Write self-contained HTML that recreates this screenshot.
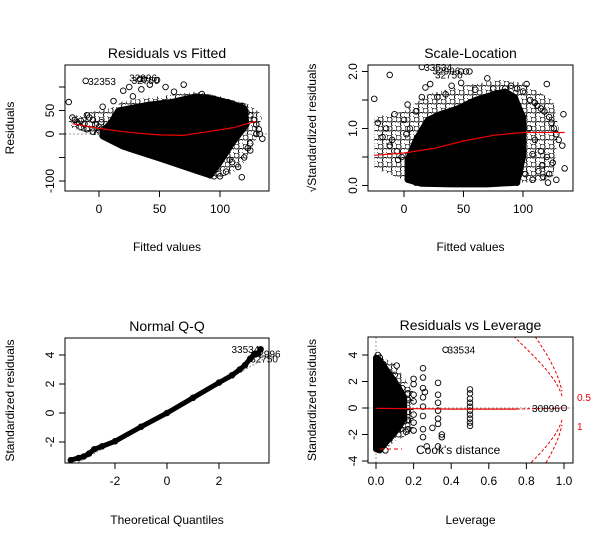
<!DOCTYPE html>
<html><head><meta charset="utf-8"><style>
html,body{margin:0;padding:0;background:#fff}
svg{display:block;font-family:"Liberation Sans",Arial,sans-serif}
</style></head><body>
<svg id="c" width="606" height="545" viewBox="0 0 606 545" xmlns="http://www.w3.org/2000/svg">
<defs>
<pattern id="circpat" width="9" height="9" patternUnits="userSpaceOnUse">
<circle cx="2.5" cy="2.5" r="2.6" fill="none" stroke="#000" stroke-width="0.9"/>
<circle cx="7" cy="7" r="2.6" fill="none" stroke="#000" stroke-width="0.9"/>
</pattern>
</defs>
</svg>
<script>
// ---------- data ----------
// Panel 1: Residuals vs Fitted
const rvfCloudX=[10,16,40,60,80,95,110,120,122,110,100,92,80,50,20,3,3];
const rvfCloudY=[25,50,62,68,80,75,65,55,20,-20,-60,-88,-78,-52,-27,-5,5];
const rvfFringeX=[-25,-10,10,20,50,80,100,125,135,130,120,110,95,80,50,20,0,-25];
const rvfFringeY=[35,45,55,70,80,90,80,62,40,-10,-60,-85,-95,-85,-55,-30,-5,15];
const rvfPtsX=[-25,-22,-20,-18,-15,-12,-10,-8,-5,-3,0,2,5,8,10,12,15,-15,-10,-5,0,5,10,3,12,20,25,28,35,42,48,55,62,70,85,95,100,105,110,115,118,120,122,125,128,130,132,133,135,125,120,115,110,105,100,95,97,108,118,123,125,130,88,92];
const rvfPtsY=[68,35,30,25,28,22,40,35,30,20,15,25,10,12,20,30,35,15,10,5,8,0,5,58,70,92,100,80,95,105,115,100,90,105,85,75,70,60,65,55,60,50,45,40,30,20,10,0,-10,-35,-50,-70,-60,-80,-90,-90,-75,-55,-92,-30,-20,0,-78,-88];
const rvfLowX=[-22,0,20,40,50,70,90,110,130];
const rvfLowY=[22,12,5,0,-2,-3,5,13,27];
// Panel 2: Scale-Location
const slCloudX=[3,3,10,20,30,45,60,75,85,93,100,100,95,70,40,15];
const slCloudY=[0.1,0.45,0.8,1.15,1.25,1.35,1.5,1.6,1.65,1.55,1.2,0.5,0.05,0.02,0.02,0.03];
const slFringeX=[-25,-25,0,20,50,80,100,125,130,125,100,20,0];
const slFringeY=[0.3,1.2,1.3,1.6,1.75,1.85,1.8,1.5,1.0,0.1,0.05,0,0.1];
const slPtsX=[-25,-22,-18,-15,-12,-10,-8,-5,-2,0,3,5,8,10,12,-12,-6,2,6,10,15,18,22,28,35,40,48,55,60,70,75,85,90,95,100,103,106,110,112,115,118,120,122,124,126,128,130,133,134,135,100,105,110,115,120,125,98,102,108,113,117,121,95,100,108,116,122,128];
const slPtsY=[1.52,1.1,0.85,1.0,1.94,0.8,1.25,0.45,0.5,1.15,1.42,1.0,0.2,0.05,0.4,0.7,0.6,0.9,0.3,1.3,1.55,1.72,1.78,1.55,1.6,1.75,1.8,2.0,1.68,1.88,1.7,1.7,1.75,1.7,1.65,1.78,1.5,1.45,1.4,1.35,1.3,1.78,1.2,1.1,1.0,0.9,0.8,0.7,1.25,0.3,1.2,1.0,0.8,0.6,0.5,0.4,0.3,0.2,0.1,0.25,0.15,0.05,0.05,0.65,0.55,0.35,0.2,0.1];
const slLowX=[-25,0,25,50,75,100,135];
const slLowY=[0.53,0.57,0.65,0.78,0.88,0.93,0.93];
// Panel 3: Normal Q-Q
const qqX=[-3.7,-3.4,-3.2,-3.0,-2.8,-2.5,-2.0,-1.0,0,1.0,2.0,2.5,2.8,3.0,3.2,3.35,3.5,3.6];
const qqY=[-3.25,-3.1,-3.0,-2.8,-2.5,-2.3,-1.95,-0.95,0,1.05,2.1,2.6,3.0,3.3,3.75,4.05,4.1,4.4];
// Panel 4: Residuals vs Leverage
const rvlCloudX=[0,0,0.02,0.05,0.08,0.1,0.13,0.15,0.15,0.12,0.08,0.04,0.02];
const rvlCloudY=[-3.1,3.8,3.6,3.0,2.4,2.0,1.3,0.8,-0.8,-1.5,-2.2,-2.8,-3.2];
const rvlFringeX=[0,0.1,0.2,0.2,0.1,0.04,0];
const rvlFringeY=[4.1,3.3,1.2,-1.8,-2.5,-3.3,-3.2];
const rvlPtsX=[0.01,0.02,0.04,0.05,0.08,0.1,0.11,0.14,0.15,0.17,0.17,0.17,0.17,0.17,0.2,0.2,0.2,0.2,0.2,0.2,0.2,0.25,0.25,0.25,0.25,0.25,0.25,0.25,0.25,0.26,0.27,0.3,0.33,0.33,0.33,0.33,0.33,0.33,0.33,0.35,0.35,0.5,0.5,0.5,0.5,0.5,0.5,0.5,0.5,0.5,0.5,0.37,1.0,0.13,0.16];
const rvlPtsY=[4.0,3.8,3.3,-3.2,2.0,2.5,3.2,1.5,-1.0,1.1,0.6,-0.3,-0.9,-1.6,2.2,1.8,1.0,0.5,-0.5,-1.1,-1.7,3.0,2.3,1.5,0.8,0.1,-0.6,-1.6,-2.2,1.2,-2.9,-1.5,1.9,1.0,0.4,-0.2,-0.8,-1.2,-2.9,-2.0,-2.2,1.4,1.1,0.7,0.4,0.1,-0.2,-0.5,-0.8,-1.1,-1.35,4.4,0.0,-1.6,-1.8];
const rvlLowX=[0,0.2,0.4,0.6,0.75];
const rvlLowY=[-0.02,-0.05,-0.08,-0.08,-0.08];
const cookLevels=[0.5,1];
const cookP=160;

// ---------- helpers ----------
const NS="http://www.w3.org/2000/svg";
const svg=document.getElementById('c');
function mk(tag,attrs,parent){const e=document.createElementNS(NS,tag);for(const k in attrs)e.setAttribute(k,attrs[k]);(parent||svg).appendChild(e);return e;}
function txt(x,y,s,size,anchor,rot,color,parent){const t=mk('text',{x:x,y:y,'font-size':size,'text-anchor':anchor||'middle',fill:color||'#000'},parent);if(rot)t.setAttribute('transform','rotate(-90 '+x+' '+y+')');t.textContent=s;return t;}
function scale(d0,d1,p0,p1){return v=>p0+(v-d0)*(p1-p0)/(d1-d0);}

function panel(cfg){
  const g=mk('g',{});
  
  
  const {L,R,T,B}=cfg.box;
  const cid='clip-'+cfg.name;
  const cp=mk('clipPath',{id:cid},g);mk('rect',{x:L,y:T,width:R-L,height:B-T},cp);
  const plot=mk('g',{'clip-path':'url(#'+cid+')'},g);
  const t=txt((L+R)/2,T-7,cfg.title,14,'middle',false,'#000',g);
  
  
  const frame=mk('rect',{x:L,y:T,width:R-L,height:B-T,fill:'none',stroke:'#000','stroke-width':1},g);
  
  
  cfg.xt.forEach((v,i)=>{const x=cfg.sx(v);mk('line',{x1:x,y1:B,x2:x,y2:B+6,stroke:'#000'},g);
    if(cfg.xl[i]!==''){const e=txt(x,B+22,cfg.xl[i],12,'middle',false,'#000',g);}});
  mk('line',{x1:cfg.sx(cfg.xt[0]),y1:B,x2:cfg.sx(cfg.xt[cfg.xt.length-1]),y2:B,stroke:'#000'},g);
  cfg.yt.forEach((v,i)=>{const y=cfg.sy(v);mk('line',{x1:L-6,y1:y,x2:L,y2:y,stroke:'#000'},g);
    if(cfg.yl[i]!==''){const e=txt(L-11,y,cfg.yl[i],12,'middle',true,'#000',g);}});
  mk('line',{x1:L,y1:cfg.sy(cfg.yt[0]),x2:L,y2:cfg.sy(cfg.yt[cfg.yt.length-1]),stroke:'#000'},g);
  const xa=txt((L+R)/2,cfg.xlabY,cfg.xlab,12,'middle',false,'#000',g);
  
  const ya=txt(cfg.ylabX,(T+B)/2,cfg.ylab,12,'middle',true,'#000',g);
  
  return {g,plot};
}
function poly(plot,xs,ys,sx,sy,attrs,name){
  const d=xs.map((v,i)=>sx(v).toFixed(1)+','+sy(ys[i]).toFixed(1)).join(' ');
  const p=mk('polygon',Object.assign({points:d},attrs),plot);
  
  
}
function cloud(plot,xs,ys,sx,sy){poly(plot,xs,ys,sx,sy,{fill:'#000',stroke:'#000','stroke-width':6,'stroke-linejoin':'round'},'dense-point-cloud');}
function fringe(plot,xs,ys,sx,sy){poly(plot,xs,ys,sx,sy,{fill:'url(#circpat)',stroke:'none'},'sparse-point-fringe');}
function pts(plot,xs,ys,sx,sy){
  xs.forEach((v,i)=>{const c=mk('circle',{cx:sx(v),cy:sy(ys[i]),r:2.8,fill:'none',stroke:'#000','stroke-width':0.9},plot);
    
    });
}
function line(plot,xs,ys,sx,sy,attrs,name){
  const d=xs.map((v,i)=>sx(v).toFixed(1)+','+sy(ys[i]).toFixed(1)).join(' ');
  const l=mk('polyline',Object.assign({points:d,fill:'none'},attrs),plot);
  
  
}

// ---------- Panel 1 ----------
{
  const sx=scale(0,100,99,220), sy=scale(0,50,134,110.5);
  const p=panel({name:'residuals-vs-fitted',title:'Residuals vs Fitted',box:{L:65,R:269,T:65,B:191},sx,sy,
    xt:[0,50,100],xl:['0','50','100'],yt:[-100,-50,0,50,100],yl:['-100','','0','50',''],
    xlab:'Fitted values',xlabY:251,ylab:'Residuals',ylabX:14});
  mk('line',{x1:65,y1:sy(0),x2:269,y2:sy(0),stroke:'#999','stroke-dasharray':'2,2'},p.plot);
  fringe(p.plot,rvfFringeX,rvfFringeY,sx,sy);
  cloud(p.plot,rvfCloudX,rvfCloudY,sx,sy);
  pts(p.plot,rvfPtsX,rvfPtsY,sx,sy);
  line(p.plot,rvfLowX,rvfLowY,sx,sy,{stroke:'#e00','stroke-width':1.2},'lowess-line');
  pts(p.plot,[-11,34,37],[113,117,116],sx,sy);
  txt(sx(-9),sy(113)+4,'32353',10,'start',false,'#000',p.g);
  txt(sx(25),sy(120)+4,'32996',10,'start',false,'#000',p.g);
  txt(sx(27),sy(115)+4,'32750',10,'start',false,'#000',p.g);
}
// ---------- Panel 2 ----------
{
  const sx=scale(0,100,404,523), sy=scale(0,1,185.5,128.5);
  const p=panel({name:'scale-location',title:'Scale-Location',box:{L:368,R:573,T:65,B:191},sx,sy,
    xt:[0,50,100],xl:['0','50','100'],yt:[0,0.5,1,1.5,2],yl:['0.0','','1.0','','2.0'],
    xlab:'Fitted values',xlabY:251,ylab:'√Standardized residuals',ylabX:316});
  fringe(p.plot,slFringeX,slFringeY,sx,sy);
  cloud(p.plot,slCloudX,slCloudY,sx,sy);
  pts(p.plot,slPtsX,slPtsY,sx,sy);
  line(p.plot,slLowX,slLowY,sx,sy,{stroke:'#e00','stroke-width':1.2},'lowess-line');
  pts(p.plot,[15,48,52],[2.08,2.0,2.0],sx,sy);
  txt(sx(17),sy(2.08)+4,'33534',10,'start',false,'#000',p.g);
  txt(sx(24),sy(2.02)+4,'32996',10,'start',false,'#000',p.g);
  txt(sx(26),sy(1.95)+4,'32750',10,'start',false,'#000',p.g);
}
// ---------- Panel 3 ----------
{
  const sx=scale(0,2,167,219), sy=scale(0,2,413,384);
  const p=panel({name:'normal-qq',title:'Normal Q-Q',box:{L:65,R:269,T:338,B:463},sx,sy,
    xt:[-2,0,2],xl:['-2','0','2'],yt:[-2,0,2,4],yl:['-2','0','2','4'],
    xlab:'Theoretical Quantiles',xlabY:524,ylab:'Standardized residuals',ylabX:14});
  mk('line',{x1:sx(-4),y1:sy(-4),x2:sx(4),y2:sy(4),stroke:'#777','stroke-dasharray':'1.5,2'},p.plot);
  line(p.plot,qqX,qqY,sx,sy,{stroke:'#000','stroke-width':5,'stroke-linejoin':'round','stroke-linecap':'round'},'qq-points-band');
  pts(p.plot,qqX,qqY,sx,sy);
  txt(sx(3.55),sy(4.4)+4,'33534',10,'end',false,'#000',p.g);
  txt(sx(3.3),sy(4.05)+3,'32996',10,'start',false,'#000',p.g);
  txt(sx(3.2),sy(3.75)+4,'32750',10,'start',false,'#000',p.g);
}
// ---------- Panel 4 ----------
{
  const sx=scale(0,1,376,564), sy=scale(0,4,408,355);
  const p=panel({name:'residuals-vs-leverage',title:'Residuals vs Leverage',box:{L:368,R:573,T:337,B:463},sx,sy,
    xt:[0,0.2,0.4,0.6,0.8,1.0],xl:['0.0','0.2','0.4','0.6','0.8','1.0'],yt:[-4,-2,0,2,4],yl:['-4','-2','0','2','4'],
    xlab:'Leverage',xlabY:524,ylab:'Standardized residuals',ylabX:316});
  mk('line',{x1:368,y1:sy(0),x2:573,y2:sy(0),stroke:'#999','stroke-dasharray':'2,2'},p.plot);
  mk('line',{x1:sx(0),y1:337,x2:sx(0),y2:463,stroke:'#999','stroke-dasharray':'2,2'},p.plot);
  fringe(p.plot,rvlFringeX,rvlFringeY,sx,sy);
  cloud(p.plot,rvlCloudX,rvlCloudY,sx,sy);
  pts(p.plot,rvlPtsX,rvlPtsY,sx,sy);
  line(p.plot,rvlLowX,rvlLowY,sx,sy,{stroke:'#e00','stroke-width':1.2},'smoother-line');
  mk('line',{x1:sx(0.75),y1:sy(-0.08),x2:sx(1),y2:sy(0),stroke:'#e00','stroke-dasharray':'3,2'},p.plot);
  cookLevels.forEach(c=>{
    [1,-1].forEach(s=>{
      const hs=[],rs=[];
      for(let h=0.6;h<=1.0001;h+=0.01){hs.push(h);rs.push(s*Math.sqrt(c*cookP*(1-h)/h));}
      line(p.plot,hs,rs,sx,sy,{stroke:'#e00','stroke-dasharray':'3,2'},'cooks-distance-contour');
    });
  });
  txt(sx(0.38),sy(4.4)+4,'33534',10,'start',false,'#000',p.g);
  txt(sx(0.83),sy(0)+4,'30896',10,'start',false,'#000',p.g);
  txt(577,401,'0.5',10,'start',false,'#e00',p.g);
  txt(577,430,'1',10,'start',false,'#e00',p.g);
  const lg=mk('g',{},p.g);
  
  
  mk('line',{x1:380,y1:449,x2:402,y2:449,stroke:'#e00','stroke-dasharray':'4,3'},lg);
  txt(416,454,"Cook's distance",12,'start',false,'#000',lg);
}
</script>
</body></html>
